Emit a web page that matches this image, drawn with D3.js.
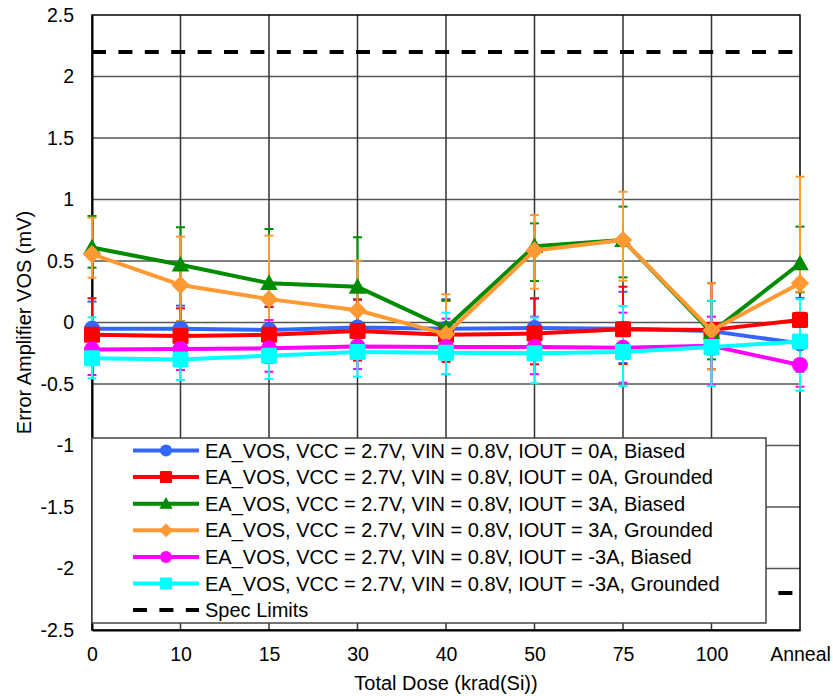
<!DOCTYPE html>
<html>
<head>
<meta charset="utf-8">
<script src="https://cdn.jsdelivr.net/npm/d3@7"></script>
<style>
  html, body { margin: 0; padding: 0; background: #fff; }
  svg { display: block; font-family: "Liberation Sans", Arial, sans-serif; }
</style>
</head>
<body>
<svg id="chart" width="833" height="696"></svg>
<script>
// Dose steps on the x axis
const categories = ["0", "10", "15", "30", "40", "50", "75", "100", "Anneal"];
const yTicks = [-2.5, -2, -1.5, -1, -0.5, 0, 0.5, 1, 1.5, 2, 2.5];

// Mean offset per dose step (mV)
const bias0A   = [-0.05, -0.05, -0.06, -0.04, -0.05, -0.045, -0.05, -0.07, -0.17];
const gnd0A    = [-0.10, -0.11, -0.10, -0.07, -0.10, -0.09, -0.055, -0.06, 0.02];
const bias3A   = [0.61, 0.47, 0.32, 0.29, -0.045, 0.62, 0.67, -0.08, 0.48];
const gnd3A    = [0.555, 0.305, 0.19, 0.10, -0.095, 0.585, 0.67, -0.065, 0.32];
const biasN3A  = [-0.22, -0.215, -0.21, -0.195, -0.20, -0.20, -0.205, -0.19, -0.345];
const gndN3A   = [-0.29, -0.30, -0.27, -0.24, -0.245, -0.25, -0.24, -0.20, -0.155];

// Spread (upper / lower end of the error bars)
const bias0AHi  = [0.17, 0.137, 0.125, 0.189, 0.189, 0.195, 0.25, 0.175, 0.20];
const bias0ALo  = [-0.27, -0.24, -0.25, -0.27, -0.29, -0.24, -0.33, -0.26, -0.40];
const gnd0AHi   = [0.197, 0.115, 0.129, 0.185, 0.18, 0.197, 0.291, 0.32, 0.08];
const gnd0ALo   = [-0.32, -0.33, -0.33, -0.31, -0.32, -0.34, -0.337, -0.38, -0.30];
const bias3AHi  = [0.866, 0.774, 0.76, 0.693, 0.177, 0.806, 0.942, 0.175, 0.779];
const bias3ALo  = [0.446, 0.012, -0.12, -0.12, -0.27, 0.337, 0.367, -0.30, 0.245];
const gnd3AHi   = [0.852, 0.698, 0.706, 0.503, 0.229, 0.874, 1.063, 0.319, 1.185];
const gnd3ALo   = [0.364, 0.01, 0.02, -0.10, -0.30, 0.275, 0.34, -0.38, 0.25];
const biasN3AHi = [-0.03, -0.03, 0.02, -0.03, 0.031, 0.047, 0.08, 0.047, -0.17];
const biasN3ALo = [-0.427, -0.386, -0.40, -0.378, -0.42, -0.42, -0.489, -0.51, -0.522];
const gndN3AHi  = [0.042, -0.03, -0.03, -0.03, 0.08, 0.04, 0.134, 0.177, 0.19];
const gndN3ALo  = [-0.454, -0.467, -0.459, -0.44, -0.42, -0.494, -0.516, -0.516, -0.554];

const specLimits = [2.2, -2.2];

const seriesNames = [
  "EA_VOS, VCC = 2.7V, VIN = 0.8V, IOUT = 0A, Biased",
  "EA_VOS, VCC = 2.7V, VIN = 0.8V, IOUT = 0A, Grounded",
  "EA_VOS, VCC = 2.7V, VIN = 0.8V, IOUT = 3A, Biased",
  "EA_VOS, VCC = 2.7V, VIN = 0.8V, IOUT = 3A, Grounded",
  "EA_VOS, VCC = 2.7V, VIN = 0.8V, IOUT = -3A, Biased",
  "EA_VOS, VCC = 2.7V, VIN = 0.8V, IOUT = -3A, Grounded"
];
const specName = "Spec Limits";

const series = [
  { name: seriesNames[0], values: bias0A,  hi: bias0AHi,  lo: bias0ALo,  color: "#3366FF", shape: "circle" },
  { name: seriesNames[1], values: gnd0A,   hi: gnd0AHi,   lo: gnd0ALo,   color: "#FF0000", shape: "square" },
  { name: seriesNames[2], values: bias3A,  hi: bias3AHi,  lo: bias3ALo,  color: "#008C00", shape: "triangle" },
  { name: seriesNames[3], values: gnd3A,   hi: gnd3AHi,   lo: gnd3ALo,   color: "#FF9933", shape: "diamond" },
  { name: seriesNames[4], values: biasN3A, hi: biasN3AHi, lo: biasN3ALo, color: "#FF00FF", shape: "circle" },
  { name: seriesNames[5], values: gndN3A,  hi: gndN3AHi,  lo: gndN3ALo,  color: "#00FFFF", shape: "square" }
];

const svg = d3.select("#chart");
const plot = { left: 92, right: 800, top: 15, bottom: 630 };

const x = d3.scalePoint().domain(categories).range([plot.left, plot.right]).padding(0);
const y = d3.scaleLinear().domain([-2.5, 2.5]).range([plot.bottom, plot.top]);

// Plain hyphen for negatives
const fmt = d => String(d);

// Grid
const grid = svg.append("g");
grid.selectAll("line.h").data(yTicks.slice(1, -1)).join("line")
  .attr("x1", plot.left).attr("x2", plot.right)
  .attr("y1", d => y(d)).attr("y2", d => y(d))
  .attr("stroke", "#555").attr("stroke-width", 1.5);
grid.selectAll("line.v").data(categories.slice(1, -1)).join("line")
  .attr("x1", d => x(d)).attr("x2", d => x(d))
  .attr("y1", plot.top).attr("y2", plot.bottom)
  .attr("stroke", "#333").attr("stroke-width", 1.5);

// Frame
svg.append("rect")
  .attr("x", plot.left).attr("y", plot.top)
  .attr("width", plot.right - plot.left).attr("height", plot.bottom - plot.top)
  .attr("fill", "none").attr("stroke", "#000").attr("stroke-width", 1.5);

// Axes
const yAxis = d3.axisLeft(y).tickValues(yTicks).tickSize(0).tickPadding(18).tickFormat(fmt);
const gy = svg.append("g").attr("transform", `translate(${plot.left},0)`).call(yAxis);
gy.select(".domain").attr("stroke", "#000").attr("stroke-width", 2);
gy.selectAll("text").attr("font-size", 19.5).attr("fill", "#000")
  .attr("font-family", "Liberation Sans, Arial, sans-serif");

const xAxis = d3.axisBottom(x).tickSize(0).tickPadding(17);
const gx = svg.append("g").attr("transform", `translate(0,${plot.bottom})`).call(xAxis);
gx.select(".domain").attr("stroke", "#000").attr("stroke-width", 2);
gx.selectAll("text").attr("font-size", 19.5).attr("fill", "#000")
  .attr("font-family", "Liberation Sans, Arial, sans-serif");

// Axis titles
svg.append("text")
  .attr("x", (plot.left + plot.right) / 2).attr("y", 690)
  .attr("text-anchor", "middle").attr("font-size", 20).attr("fill", "#000")
  .text("Total Dose (krad(Si))");
svg.append("text")
  .attr("transform", `translate(31,${(plot.top + plot.bottom) / 2}) rotate(-90)`)
  .attr("text-anchor", "middle").attr("font-size", 20).attr("fill", "#000")
  .text("Error Amplifier VOS (mV)");

// Spec limit lines
svg.append("g").selectAll("line").data(specLimits).join("line")
  .attr("x1", plot.left).attr("x2", plot.right)
  .attr("y1", d => y(d)).attr("y2", d => y(d))
  .attr("stroke", "#000").attr("stroke-width", 4)
  .attr("stroke-dasharray", "14,12.4");

// Marker shapes
function markerPath(shape, s) {
  switch (shape) {
    case "circle":
      return `M${-s},0A${s},${s} 0 1,0 ${s},0A${s},${s} 0 1,0 ${-s},0Z`;
    case "square": {
      const r = s * 0.2;
      return `M${-s + r},${-s}H${s - r}Q${s},${-s} ${s},${-s + r}V${s - r}Q${s},${s} ${s - r},${s}H${-s + r}Q${-s},${s} ${-s},${s - r}V${-s + r}Q${-s},${-s} ${-s + r},${-s}Z`;
    }
    case "triangle":
      return `M0,${-s * 1.1}L${s * 1.1},${s * 0.85}L${-s * 1.1},${s * 0.85}Z`;
    case "diamond":
      return `M0,${-s * 1.15}L${s * 1.15},0L0,${s * 1.15}L${-s * 1.15},0Z`;
  }
}

// Error bars first, series drawn on top
const err = svg.append("g");
series.forEach(s => {
  const g = err.append("g").attr("stroke", s.color).attr("stroke-width", 2).attr("fill", "none");
  categories.forEach((c, i) => {
    const cx = x(c);
    g.append("line").attr("x1", cx).attr("x2", cx).attr("y1", y(s.lo[i])).attr("y2", y(s.hi[i]));
    g.append("line").attr("x1", cx - 4.5).attr("x2", cx + 4.5).attr("y1", y(s.hi[i])).attr("y2", y(s.hi[i]));
    g.append("line").attr("x1", cx - 4.5).attr("x2", cx + 4.5).attr("y1", y(s.lo[i])).attr("y2", y(s.lo[i]));
  });
});

const line = d3.line().x((d, i) => x(categories[i])).y(d => y(d));
series.forEach(s => {
  const g = svg.append("g");
  g.append("path").datum(s.values).attr("d", line)
    .attr("fill", "none").attr("stroke", s.color).attr("stroke-width", 4)
    .attr("stroke-linejoin", "round");
  g.selectAll("path.m").data(s.values).join("path")
    .attr("class", "m")
    .attr("transform", (d, i) => `translate(${x(categories[i])},${y(d)})`)
    .attr("d", markerPath(s.shape, 8))
    .attr("fill", s.color);
});

// Legend
const leg = { x: 92, y: 438, w: 674, h: 185, rowY: 450.5, rowH: 26.6 };
const lg = svg.append("g");
lg.append("rect").attr("x", leg.x).attr("y", leg.y).attr("width", leg.w).attr("height", leg.h)
  .attr("fill", "#fff").attr("stroke", "#444").attr("stroke-width", 1.5);
series.forEach((s, i) => {
  const cy = leg.rowY + i * leg.rowH;
  lg.append("line").attr("x1", 133).attr("x2", 199).attr("y1", cy).attr("y2", cy)
    .attr("stroke", s.color).attr("stroke-width", 4);
  lg.append("path").attr("transform", `translate(166,${cy})`)
    .attr("d", markerPath(s.shape, 6)).attr("fill", s.color);
  lg.append("text").attr("x", 205).attr("y", cy + 7).attr("font-size", 20).attr("fill", "#000")
    .text(s.name);
});
{
  const cy = leg.rowY + series.length * leg.rowH;
  lg.append("line").attr("x1", 133).attr("x2", 199).attr("y1", cy).attr("y2", cy)
    .attr("stroke", "#000").attr("stroke-width", 4).attr("stroke-dasharray", "14,12.4");
  lg.append("text").attr("x", 205).attr("y", cy + 7).attr("font-size", 20).attr("fill", "#000")
    .text(specName);
}
</script>
</body>
</html>
